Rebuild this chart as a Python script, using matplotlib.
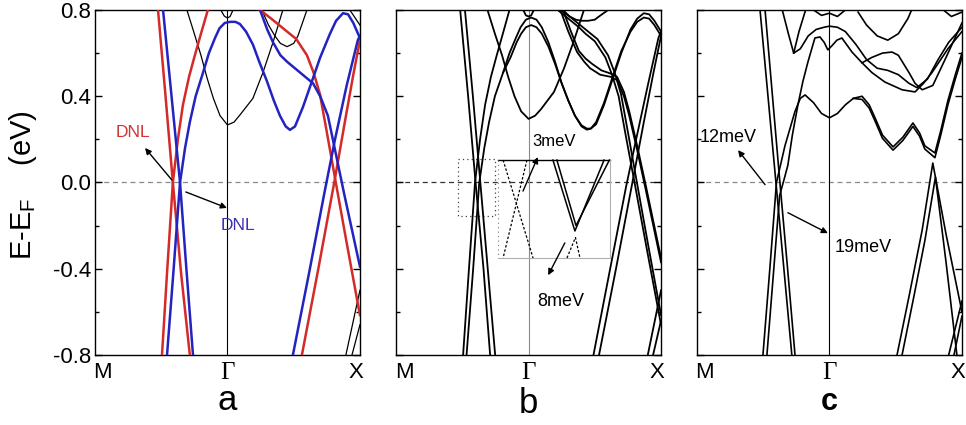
"""Band structures along M-Gamma-X for three cases (a, b, c)."""
import matplotlib
matplotlib.use('Agg')
import matplotlib.pyplot as plt
from matplotlib.ticker import MultipleLocator

plt.rcParams['font.family'] = ['Liberation Sans', 'DejaVu Sans']
plt.rcParams['axes.unicode_minus'] = False

# ---------------------------------------------------------------
# band data: (k along M-Gamma-X scaled 0..1, E - E_F in eV)
# ---------------------------------------------------------------
a_red = [
    ([0.238, 0.265, 0.294, 0.325, 0.358], [0.8, 0.42, 0.0, -0.42, -0.8]),
    ([0.253, 0.272, 0.294, 0.313, 0.332, 0.355, 0.377, 0.40, 0.426],
     [-0.8, -0.42, 0.0, 0.2, 0.36, 0.49, 0.59, 0.69, 0.8]),
    ([0.623, 0.66, 0.70, 0.725, 0.76, 0.80, 0.825, 0.849, 0.877, 0.906, 0.95, 1.0],
     [0.8, 0.765, 0.725, 0.70, 0.665, 0.59, 0.51, 0.41, 0.22, 0.02, -0.28, -0.615]),
    ([0.781, 0.843, 0.906, 0.943, 0.975, 1.0], [-0.8, -0.4, 0.02, 0.28, 0.5, 0.66]),
]
a_blue = [
    ([0.257, 0.289, 0.321, 0.345, 0.370], [0.8, 0.4, 0.0, -0.4, -0.8]),
    ([0.272, 0.297, 0.321, 0.34, 0.358, 0.38, 0.408, 0.43, 0.453, 0.47, 0.49, 0.51,
      0.53, 0.547, 0.57, 0.596, 0.62, 0.649, 0.675, 0.698, 0.72, 0.736, 0.755, 0.785,
      0.819, 0.85, 0.887, 0.91, 0.936, 0.955, 0.975, 1.0],
     [-0.8, -0.4, 0.0, 0.16, 0.28, 0.40, 0.51, 0.60, 0.67, 0.715, 0.74, 0.745,
      0.745, 0.735, 0.70, 0.64, 0.56, 0.47, 0.38, 0.31, 0.26, 0.244, 0.26, 0.35,
      0.47, 0.58, 0.69, 0.75, 0.785, 0.78, 0.74, 0.67]),
    ([0.623, 0.65, 0.672, 0.70, 0.725, 0.774, 0.823, 0.85, 0.879, 0.913, 0.94, 1.0],
     [0.8, 0.71, 0.65, 0.59, 0.56, 0.51, 0.46, 0.40, 0.31, 0.11, -0.05, -0.39]),
    ([0.747, 0.808, 0.868, 0.906, 0.95, 0.992, 1.0], [-0.8, -0.42, -0.035, 0.2, 0.45, 0.66, 0.68]),
]
a_black = [
    ([0.347, 0.375, 0.40, 0.423, 0.447, 0.472, 0.5, 0.525, 0.547, 0.596, 0.634, 0.672, 0.709],
     [0.8, 0.69, 0.59, 0.485, 0.39, 0.31, 0.267, 0.28, 0.313, 0.39, 0.51, 0.65, 0.8]),
    ([0.475, 0.488, 0.5, 0.51, 0.521], [0.8, 0.772, 0.763, 0.77, 0.8]),
    ([0.63, 0.655, 0.679, 0.70, 0.725, 0.75, 0.766, 0.8], [0.8, 0.73, 0.68, 0.645, 0.63, 0.645, 0.68, 0.8]),
    ([0.947, 1.0], [-0.8, -0.5]),
    ([0.97, 1.0], [-0.8, -0.66]),
    ([0.962, 1.0], [0.8, 0.73]),
]

b_bands = [
    ([0.242, 0.272, 0.30, 0.33, 0.355], [0.8, 0.4, 0.0, -0.4, -0.8]),
    ([0.26, 0.29, 0.318, 0.346, 0.374], [0.8, 0.4, 0.0, -0.4, -0.8]),
    ([0.253, 0.274, 0.298, 0.317, 0.336, 0.358, 0.38, 0.403, 0.428],
     [-0.8, -0.42, 0.0, 0.2, 0.36, 0.49, 0.59, 0.69, 0.8]),
    ([0.266, 0.291, 0.314, 0.333, 0.351, 0.373, 0.404, 0.428, 0.452, 0.47, 0.49, 0.51,
      0.53, 0.55, 0.575, 0.60, 0.625, 0.65, 0.675, 0.70, 0.72, 0.735, 0.755, 0.785,
      0.82, 0.85, 0.885, 0.91, 0.935, 0.955, 0.975, 1.0],
     [-0.8, -0.4, 0.0, 0.16, 0.28, 0.40, 0.51, 0.60, 0.67, 0.72, 0.755, 0.765,
      0.755, 0.72, 0.65, 0.56, 0.46, 0.38, 0.31, 0.26, 0.245, 0.25, 0.27, 0.36,
      0.49, 0.60, 0.71, 0.76, 0.785, 0.78, 0.75, 0.70]),
    ([0.404, 0.432, 0.455, 0.472, 0.49, 0.51, 0.53, 0.55, 0.575, 0.60, 0.625, 0.65,
      0.675, 0.70, 0.72, 0.735, 0.755, 0.785, 0.82, 0.85, 0.885, 0.91, 0.935, 0.955, 0.975, 1.0],
     [0.51, 0.58, 0.65, 0.69, 0.72, 0.73, 0.72, 0.69, 0.63, 0.55, 0.46, 0.38,
      0.31, 0.265, 0.25, 0.25, 0.28, 0.37, 0.50, 0.61, 0.70, 0.745, 0.765, 0.76, 0.73, 0.68]),
    ([0.345, 0.373, 0.40, 0.423, 0.447, 0.472, 0.5, 0.525, 0.547, 0.596, 0.634, 0.672, 0.709],
     [0.8, 0.69, 0.59, 0.49, 0.40, 0.33, 0.295, 0.31, 0.34, 0.42, 0.53, 0.66, 0.8]),
    ([0.62, 0.66, 0.70, 0.725, 0.76, 0.80, 0.825, 0.849, 0.877, 0.906, 0.95, 1.0],
     [0.8, 0.765, 0.725, 0.70, 0.665, 0.59, 0.51, 0.41, 0.22, 0.02, -0.28, -0.615]),
    ([0.61, 0.65, 0.69, 0.715, 0.75, 0.79, 0.815, 0.84, 0.868, 0.897, 0.945, 1.0],
     [0.8, 0.76, 0.72, 0.69, 0.655, 0.58, 0.50, 0.40, 0.21, 0.02, -0.30, -0.66]),
    ([0.62, 0.65, 0.683, 0.71, 0.732, 0.77, 0.81, 0.834, 0.86, 0.88, 0.91, 0.94, 1.0],
     [0.8, 0.70, 0.605, 0.56, 0.53, 0.50, 0.49, 0.475, 0.40, 0.31, 0.15, -0.02, -0.37]),
    ([0.63, 0.66, 0.69, 0.715, 0.74, 0.775, 0.81, 0.834, 0.86, 0.88, 0.91, 0.94, 1.0],
     [0.8, 0.70, 0.61, 0.575, 0.55, 0.52, 0.505, 0.49, 0.42, 0.33, 0.17, 0.0, -0.35]),
    ([0.745, 0.808, 0.868, 0.906, 0.95, 0.99, 1.0], [-0.8, -0.40, -0.02, 0.2, 0.45, 0.67, 0.70]),
    ([0.766, 0.83, 0.895, 0.935, 0.97, 1.0], [-0.8, -0.40, 0.02, 0.28, 0.50, 0.68]),
    ([0.95, 1.0], [-0.8, -0.5]),
    ([0.97, 1.0], [-0.8, -0.64]),
    ([0.63, 0.655, 0.679, 0.70, 0.725, 0.75, 0.766, 0.8], [0.8, 0.77, 0.755, 0.75, 0.75, 0.755, 0.77, 0.8]),
    ([0.48, 0.49, 0.5, 0.51, 0.52], [0.8, 0.775, 0.77, 0.775, 0.8]),
]

c_bands = [
    ([0.238, 0.268, 0.298, 0.328, 0.358], [0.8, 0.4, 0.0, -0.4, -0.8]),
    ([0.257, 0.285, 0.313, 0.342, 0.370], [0.8, 0.4, 0.0, -0.4, -0.8]),
    ([0.249, 0.275, 0.30, 0.332, 0.37, 0.39, 0.408, 0.44, 0.47, 0.5, 0.53, 0.56, 0.59,
      0.623, 0.65, 0.672, 0.70, 0.74, 0.777, 0.815, 0.84, 0.86, 0.898, 0.92, 0.947, 0.975, 1.0],
     [-0.8, -0.4, 0.0, 0.17, 0.33, 0.39, 0.406, 0.37, 0.32, 0.30, 0.32, 0.36, 0.39,
      0.40, 0.36, 0.30, 0.22, 0.165, 0.21, 0.276, 0.23, 0.17, 0.137, 0.24, 0.38, 0.50, 0.6]),
    ([0.59, 0.623, 0.65, 0.672, 0.70, 0.74, 0.777, 0.815, 0.84, 0.86, 0.898, 0.92, 0.947, 0.975, 1.0],
     [0.39, 0.385, 0.345, 0.285, 0.205, 0.15, 0.195, 0.26, 0.215, 0.155, 0.115, 0.22, 0.36, 0.48, 0.58]),
    ([0.264, 0.29, 0.312, 0.33, 0.343, 0.36, 0.381, 0.40, 0.419, 0.445, 0.464, 0.48, 0.494,
      0.51, 0.528, 0.547, 0.585, 0.623, 0.66, 0.709, 0.774, 0.823, 0.855, 0.887, 0.947, 1.0],
     [-0.8, -0.4, -0.06, 0.02, 0.08, 0.22, 0.36, 0.47, 0.56, 0.67, 0.675, 0.65, 0.615,
      0.635, 0.66, 0.67, 0.605, 0.555, 0.51, 0.466, 0.43, 0.42, 0.46, 0.51, 0.62, 0.70]),
    ([0.322, 0.345, 0.365, 0.39, 0.42, 0.45, 0.48, 0.5, 0.53, 0.56, 0.60, 0.64, 0.68,
      0.72, 0.76, 0.80, 0.83, 0.87, 0.91, 0.95, 1.0],
     [0.8, 0.69, 0.60, 0.62, 0.68, 0.71, 0.72, 0.725, 0.72, 0.70, 0.64, 0.57, 0.53,
      0.52, 0.50, 0.46, 0.44, 0.48, 0.57, 0.65, 0.72]),
    ([0.365, 0.385, 0.41], [0.60, 0.70, 0.8]),
    ([0.623, 0.66, 0.70, 0.736, 0.76, 0.80, 0.823, 0.85, 0.89, 0.94, 1.0],
     [0.555, 0.58, 0.60, 0.605, 0.59, 0.51, 0.46, 0.43, 0.45, 0.58, 0.74]),
    ([0.608, 0.64, 0.68, 0.72, 0.76, 0.796, 0.81], [0.79, 0.73, 0.68, 0.66, 0.69, 0.76, 0.8]),
    ([0.44, 0.47, 0.5, 0.53, 0.56], [0.8, 0.775, 0.785, 0.77, 0.8]),
    ([0.93, 0.96, 1.0], [0.8, 0.77, 0.79]),
    ([0.755, 0.80, 0.85, 0.89, 0.94, 1.0], [-0.8, -0.53, -0.22, 0.09, -0.24, -0.60]),
    ([0.774, 0.82, 0.86, 0.90, 0.94, 0.981], [-0.8, -0.52, -0.27, 0.025, -0.37, -0.8]),
    ([0.95, 1.0], [-0.8, -0.55]),
    ([0.97, 1.0], [-0.8, -0.62]),
]

# zoomed inset inside panel b
inset_dash = [
    ([0.404, 0.517], [0.104, -0.35]),
    ([0.494, 0.404], [0.104, -0.35]),
    ([0.645, 0.677, 0.694], [-0.35, -0.255, -0.35]),
]
inset_solid = [
    ([0.592, 0.675, 0.785], [0.104, -0.225, 0.104]),
    ([0.607, 0.679, 0.805], [0.104, -0.20, 0.104]),
]

RED = '#d42a2a'
BLUE = '#2323c0'

fig = plt.figure(figsize=(9.66, 4.25), dpi=100)
axes = [fig.add_axes([0.0983, 0.1647, 0.2743, 0.8118]),
        fig.add_axes([0.4100, 0.1647, 0.2743, 0.8118]),
        fig.add_axes([0.7215, 0.1647, 0.2743, 0.8118])]


def frame(ax, fermi_color, gamma_color, show_labels):
    ax.set_xlim(0, 1)
    ax.set_ylim(-0.8, 0.8)
    ax.set_xticks([])
    ax.yaxis.set_major_locator(MultipleLocator(0.4))
    ax.yaxis.set_minor_locator(MultipleLocator(0.2))
    ax.tick_params(axis='y', which='both', direction='in', left=True, right=True,
                   labelsize=16, width=1, pad=3)
    ax.tick_params(axis='y', which='major', length=5)
    ax.tick_params(axis='y', which='minor', length=3)
    if not show_labels:
        ax.tick_params(axis='y', labelleft=False)
    for s in ax.spines.values():
        s.set_linewidth(1.0)
    ax.axhline(0, color=fermi_color, lw=0.9, dashes=(4, 3), zorder=1)
    ax.axvline(0.5, color=gamma_color, lw=0.8, zorder=1)
    ax.text(0.03, -0.052, 'M', transform=ax.transAxes, ha='center', va='center', fontsize=16)
    ax.text(0.5, -0.052, 'Γ', transform=ax.transAxes, ha='center', va='center', fontsize=18,
            family=['Liberation Serif', 'DejaVu Serif'])
    ax.text(0.985, -0.052, 'X', transform=ax.transAxes, ha='center', va='center', fontsize=16)


def bands(ax, data, color, lw):
    for k, e in data:
        ax.plot(k, e, color=color, lw=lw, solid_joinstyle='round', zorder=3)


def arrow(ax, tail, head):
    ax.annotate('', xy=head, xytext=tail,
                arrowprops=dict(arrowstyle='-|>', color='black', lw=1.0,
                                mutation_scale=9, shrinkA=0, shrinkB=0), zorder=5)


# panel a
ax = axes[0]
frame(ax, '#8a8a8a', 'black', True)
bands(ax, a_black, 'black', 0.9)
bands(ax, a_red, RED, 1.8)
bands(ax, a_blue, BLUE, 1.8)
ax.text(0.143, 0.23, 'DNL', color='#d03535', fontsize=12.5, ha='center', va='center')
ax.text(0.54, -0.20, 'DNL', color='#3a2fb0', fontsize=12.5, ha='center', va='center')
arrow(ax, (0.29, 0.012), (0.189, 0.16))
arrow(ax, (0.343, -0.044), (0.498, -0.118))

# panel b
ax = axes[1]
frame(ax, '#333333', '#8a8a8a', False)
bands(ax, b_bands, 'black', 1.3)
ax.plot([0.234, 0.374, 0.374, 0.234, 0.234], [0.107, 0.107, -0.157, -0.157, 0.107],
        color='#444444', lw=0.9, ls=(0, (1, 2.5)), zorder=2)
ax.plot([0.385, 0.808], [0.104, 0.104], color='black', lw=1.0, zorder=4)
ax.plot([0.808, 0.808, 0.385], [0.104, -0.35, -0.35], color='#b0b0b0', lw=0.8, zorder=4)
ax.plot([0.385, 0.385], [0.104, -0.35], color='#777777', lw=0.8, ls=(0, (1, 3)), zorder=4)
for k, e in inset_dash:
    ax.plot(k, e, color='black', lw=0.9, ls=(0, (2, 1.5)), zorder=4)
for k, e in inset_solid:
    ax.plot(k, e, color='black', lw=1.1, zorder=4)
ax.text(0.513, 0.19, '3meV', fontsize=12, ha='left', va='center')
ax.text(0.532, -0.55, '8meV', fontsize=13, ha='left', va='center')
arrow(ax, (0.479, -0.04), (0.535, 0.118))
arrow(ax, (0.637, -0.28), (0.574, -0.43))

# panel c
ax = axes[2]
frame(ax, '#8a8a8a', 'black', False)
bands(ax, c_bands, 'black', 1.2)
ax.text(0.011, 0.21, '12meV', fontsize=13, ha='left', va='center')
ax.text(0.52, -0.30, '19meV', fontsize=13, ha='left', va='center')
arrow(ax, (0.257, -0.01), (0.155, 0.15))
arrow(ax, (0.343, -0.14), (0.494, -0.235))

fig.text(0.024, 0.565, 'E-E$_\\mathregular{F}$    (eV)', rotation=90, ha='center', va='center',
         fontsize=21)
fig.text(0.235, 0.035, 'a', fontsize=25, ha='center', va='baseline')
fig.text(0.5466, 0.028, 'b', fontsize=25, ha='center', va='baseline')
fig.text(0.858, 0.035, 'c', fontsize=22, ha='center', va='baseline', fontweight='bold')

fig.savefig('out.png', dpi=100)
